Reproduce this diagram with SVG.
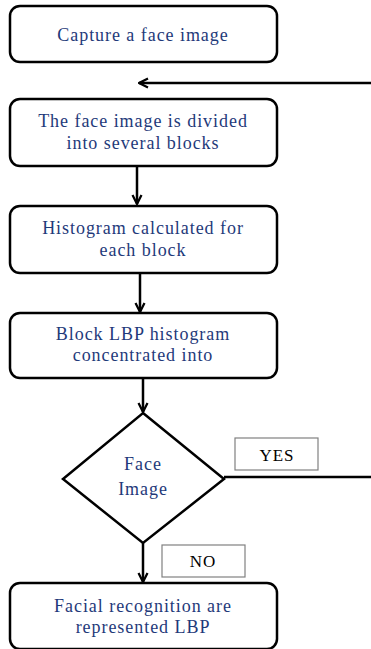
<svg xmlns="http://www.w3.org/2000/svg" width="371" height="649" viewBox="0 0 371 649">
<style>
.box{fill:#fff;stroke:#000;stroke-width:2.5}
.lbl{fill:#fff;stroke:#808080;stroke-width:1.2}
.t{font-size:18px;fill:#1f3a7a;text-anchor:middle;letter-spacing:0.95px}
.k{font-size:17px;fill:#000;text-anchor:middle;letter-spacing:1px}
.c{fill:none;stroke:#000;stroke-width:2.5}
</style>
<defs>
<marker id="ah" viewBox="0 0 10 10" refX="9" refY="5" markerWidth="4.5" markerHeight="4.5" orient="auto" markerUnits="strokeWidth">
<path d="M1,1 L9,5 L1,9" fill="none" stroke="#000" stroke-width="2"/>
</marker>
</defs>
<g id="connectors">
<path class="c" d="M371,83 H139" marker-end="url(#ah)"/>
<path class="c" d="M137,166 V204" marker-end="url(#ah)"/>
<path class="c" d="M140,273 V312" marker-end="url(#ah)"/>
<path class="c" d="M143,378 V412" marker-end="url(#ah)"/>
<path class="c" d="M224,477 H371"/>
<path class="c" d="M143,543 V582" marker-end="url(#ah)"/>
</g>
<g font-family="'Liberation Serif', 'Times New Roman', serif">
<g id="n1"><rect class="box" x="10" y="6" width="267" height="56" rx="10"/><text class="t" x="143" y="41">Capture a face image</text></g>
<g id="n2"><rect class="box" x="10" y="99" width="267" height="67" rx="10"/><text class="t" x="143" y="127">The face image is divided</text><text class="t" x="143" y="149">into several blocks</text></g>
<g id="n3"><rect class="box" x="10" y="206" width="267" height="67" rx="10"/><text class="t" x="143" y="234">Histogram calculated for</text><text class="t" x="143" y="256">each block</text></g>
<g id="n4"><rect class="box" x="10" y="313" width="267" height="65" rx="10"/><text class="t" x="143" y="340">Block LBP histogram</text><text class="t" x="143" y="361">concentrated into</text></g>
<g id="n5"><path class="box" d="M143,413 L224,479 L143,543 L63,479 Z" stroke-linejoin="miter"/><text class="t" x="143" y="470">Face</text><text class="t" x="143" y="495">Image</text></g>
<g id="yes"><rect class="lbl" x="235" y="438" width="83" height="32"/><text class="k" x="277" y="461">YES</text></g>
<g id="no"><rect class="lbl" x="162" y="545" width="83" height="32"/><text class="k" x="203" y="567">NO</text></g>
<g id="n6"><rect class="box" x="10" y="583" width="267" height="66" rx="10"/><text class="t" x="143" y="612">Facial recognition are</text><text class="t" x="143" y="633">represented LBP</text></g>
</g>
</svg>
